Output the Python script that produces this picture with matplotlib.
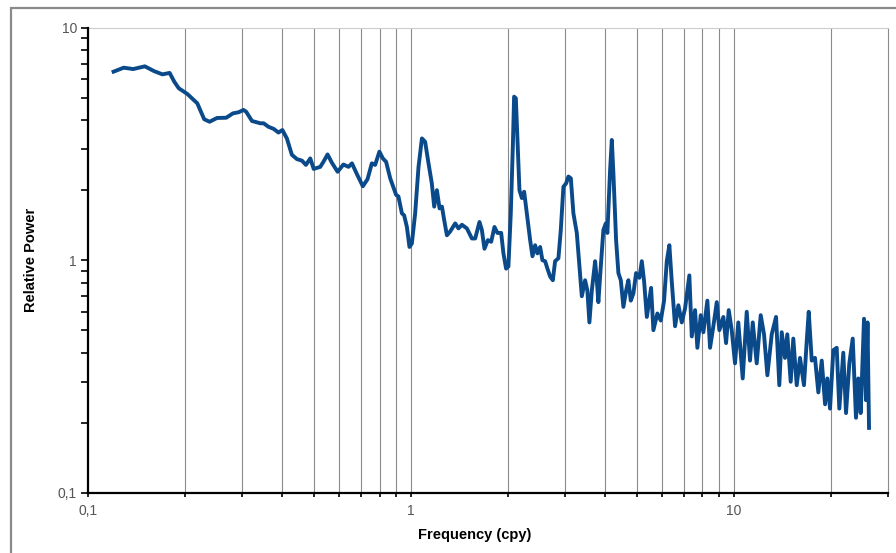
import matplotlib
matplotlib.use("Agg")
import matplotlib.pyplot as plt
from matplotlib.ticker import LogLocator, FixedLocator, NullFormatter
from matplotlib.patches import Rectangle

freq = [0.120, 0.129, 0.138, 0.150, 0.160, 0.170, 0.179, 0.185, 0.191, 0.203,
        0.218, 0.229, 0.238, 0.251, 0.268, 0.281, 0.293, 0.303, 0.309, 0.322,
        0.342, 0.350, 0.362, 0.376, 0.389, 0.400, 0.413, 0.428, 0.444, 0.460,
        0.473, 0.488, 0.500, 0.524, 0.536, 0.552, 0.569, 0.593, 0.618, 0.641,
        0.657, 0.680, 0.710, 0.734, 0.757, 0.775, 0.799, 0.819, 0.838, 0.863,
        0.900, 0.915, 0.938, 0.953, 0.972, 0.990, 1.007, 1.031, 1.056, 1.082,
        1.107, 1.134, 1.161, 1.181, 1.204, 1.227, 1.248, 1.268, 1.293, 1.324,
        1.372, 1.404, 1.439, 1.491, 1.545, 1.582, 1.631, 1.659, 1.690, 1.732,
        1.773, 1.815, 1.854, 1.904, 1.935, 1.972, 2.005, 2.039, 2.069, 2.088,
        2.114, 2.138, 2.169, 2.207, 2.243, 2.287, 2.341, 2.380, 2.426, 2.466,
        2.514, 2.555, 2.605, 2.648, 2.700, 2.752, 2.797, 2.864, 2.913, 2.968,
        3.026, 3.076, 3.129, 3.187, 3.265, 3.327, 3.384, 3.464, 3.521, 3.572,
        3.634, 3.721, 3.766, 3.808, 3.874, 3.947, 4.015, 4.061, 4.140, 4.191,
        4.239, 4.321, 4.393, 4.469, 4.552, 4.641, 4.717, 4.798, 4.889, 4.983,
        5.102, 5.191, 5.277, 5.380, 5.546, 5.638, 5.801, 5.943, 6.084, 6.203,
        6.318, 6.427, 6.581, 6.738, 6.902, 7.066, 7.286, 7.413, 7.589, 7.714,
        7.903, 8.052, 8.285, 8.445, 8.646, 8.860, 9.025, 9.286, 9.467, 9.649,
        9.858, 10.09, 10.33, 10.66, 10.97, 11.23, 11.45, 11.78, 12.12, 12.41,
        12.71, 13.11, 13.52, 13.84, 14.08, 14.41, 14.65, 15.01, 15.29, 15.67,
        16.04, 16.50, 16.83, 17.07, 17.44, 17.85, 18.28, 18.73, 19.18, 19.49,
        19.87, 20.34, 20.84, 21.23, 21.84, 22.27, 22.80, 23.36, 23.91, 24.31,
        24.73, 25.32, 25.68, 25.96, 26.24]

power = [6.47, 6.73, 6.64, 6.82, 6.51, 6.30, 6.39, 5.86, 5.49, 5.19,
         4.73, 4.04, 3.94, 4.09, 4.10, 4.28, 4.33, 4.43, 4.35, 3.97,
         3.88, 3.88, 3.75, 3.67, 3.54, 3.63, 3.34, 2.84, 2.72, 2.68,
         2.57, 2.74, 2.47, 2.52, 2.65, 2.85, 2.63, 2.40, 2.58, 2.52,
         2.61, 2.35, 2.08, 2.23, 2.61, 2.57, 2.93, 2.74, 2.65, 2.25,
         1.91, 1.88, 1.59, 1.56, 1.39, 1.14, 1.18, 1.59, 2.52, 3.34,
         3.23, 2.61, 2.14, 1.70, 2.00, 1.67, 1.70, 1.49, 1.28, 1.33,
         1.44, 1.37, 1.42, 1.37, 1.24, 1.24, 1.46, 1.35, 1.12, 1.22,
         1.20, 1.39, 1.31, 1.31, 1.07, 0.92, 0.94, 1.59, 3.08, 5.05,
         4.97, 3.29, 2.00, 1.85, 1.97, 1.59, 1.22, 1.04, 1.16, 1.07,
         1.14, 1.00, 0.99, 0.92, 0.85, 0.82, 0.99, 1.02, 1.35, 2.07,
         2.14, 2.29, 2.25, 1.59, 1.31, 0.94, 0.70, 0.82, 0.74, 0.54,
         0.74, 0.99, 0.82, 0.66, 0.94, 1.35, 1.44, 1.31, 2.44, 3.29,
         2.36, 1.22, 0.88, 0.82, 0.63, 0.74, 0.82, 0.67, 0.72, 0.88,
         0.84, 0.99, 0.81, 0.57, 0.76, 0.50, 0.59, 0.55, 0.67, 0.99,
         1.16, 0.81, 0.52, 0.64, 0.54, 0.62, 0.86, 0.47, 0.61, 0.42,
         0.58, 0.49, 0.67, 0.42, 0.52, 0.66, 0.50, 0.57, 0.44, 0.61,
         0.50, 0.36, 0.54, 0.31, 0.60, 0.37, 0.54, 0.36, 0.58, 0.48,
         0.32, 0.48, 0.57, 0.29, 0.49, 0.38, 0.48, 0.30, 0.46, 0.29,
         0.38, 0.29, 0.45, 0.60, 0.37, 0.38, 0.27, 0.37, 0.24, 0.31,
         0.23, 0.41, 0.42, 0.23, 0.40, 0.22, 0.36, 0.46, 0.21, 0.31,
         0.22, 0.56, 0.25, 0.54, 0.19]

x_ticks = [0.1, 1, 10]
x_tick_labels = ["0,1", "1", "10"]
y_ticks = [0.1, 1, 10]
y_tick_labels = ["0,1", "1", "10"]
grid_x = [0.2, 0.3, 0.4, 0.5, 0.6, 0.7, 0.8, 0.9, 1,
          2, 3, 4, 5, 6, 7, 8, 9, 10, 20]

plt.rcParams['font.family'] = ['Liberation Sans', 'DejaVu Sans']

fig = plt.figure(figsize=(8.96, 5.53), dpi=100)
ax = fig.add_axes([88 / 896, 1 - 492.7 / 553, (887.8 - 88) / 896, (492.7 - 27.7) / 553])

ax.set_xscale('log')
ax.set_yscale('log')
ax.set_xlim(0.1, 30)
ax.set_ylim(0.1, 10)

for g in grid_x:
    ax.axvline(g, color='#8a8a8a', lw=0.8, zorder=1)

ax.plot(freq, power, color='#0b4a8a', lw=2.8, solid_joinstyle='round', zorder=3)

ax.xaxis.set_major_locator(FixedLocator(x_ticks))
ax.set_xticklabels(x_tick_labels)
ax.xaxis.set_minor_locator(FixedLocator(grid_x + [30]))
ax.xaxis.set_minor_formatter(NullFormatter())
ax.yaxis.set_major_locator(FixedLocator(y_ticks))
ax.set_yticklabels(y_tick_labels)
ax.yaxis.set_minor_locator(LogLocator(base=10, subs=range(2, 10)))
ax.yaxis.set_minor_formatter(NullFormatter())

ax.tick_params(axis='x', which='both', direction='out', length=3, width=1.2,
               color='black', labelsize=10, labelcolor='#555555', pad=5)
ax.tick_params(axis='y', which='both', direction='out', length=5, width=1.2,
               color='black', labelsize=10, labelcolor='#555555', pad=3)

for s in ['left', 'bottom']:
    ax.spines[s].set_linewidth(1.6)
    ax.spines[s].set_color('black')
    ax.spines[s].set_zorder(4)
ax.spines['top'].set_color('#cccccc')
ax.spines['top'].set_linewidth(0.8)
ax.spines['right'].set_color('#8a8a8a')
ax.spines['right'].set_linewidth(0.8)

ax.set_xlabel('Frequency (cpy)', fontsize=10.5, fontweight='bold', labelpad=9)
ax.xaxis.set_label_coords((475 - 88) / 800, -0.075)
ax.set_ylabel('Relative Power', fontsize=10.5, fontweight='bold', labelpad=14)

fig.patches.append(Rectangle((11 / 896, -0.05), 1.1, 1.05 - 8 / 553,
                             transform=fig.transFigure, fill=False,
                             edgecolor='#8a8a8a', lw=1.6))

fig.savefig('out.png', dpi=100)
